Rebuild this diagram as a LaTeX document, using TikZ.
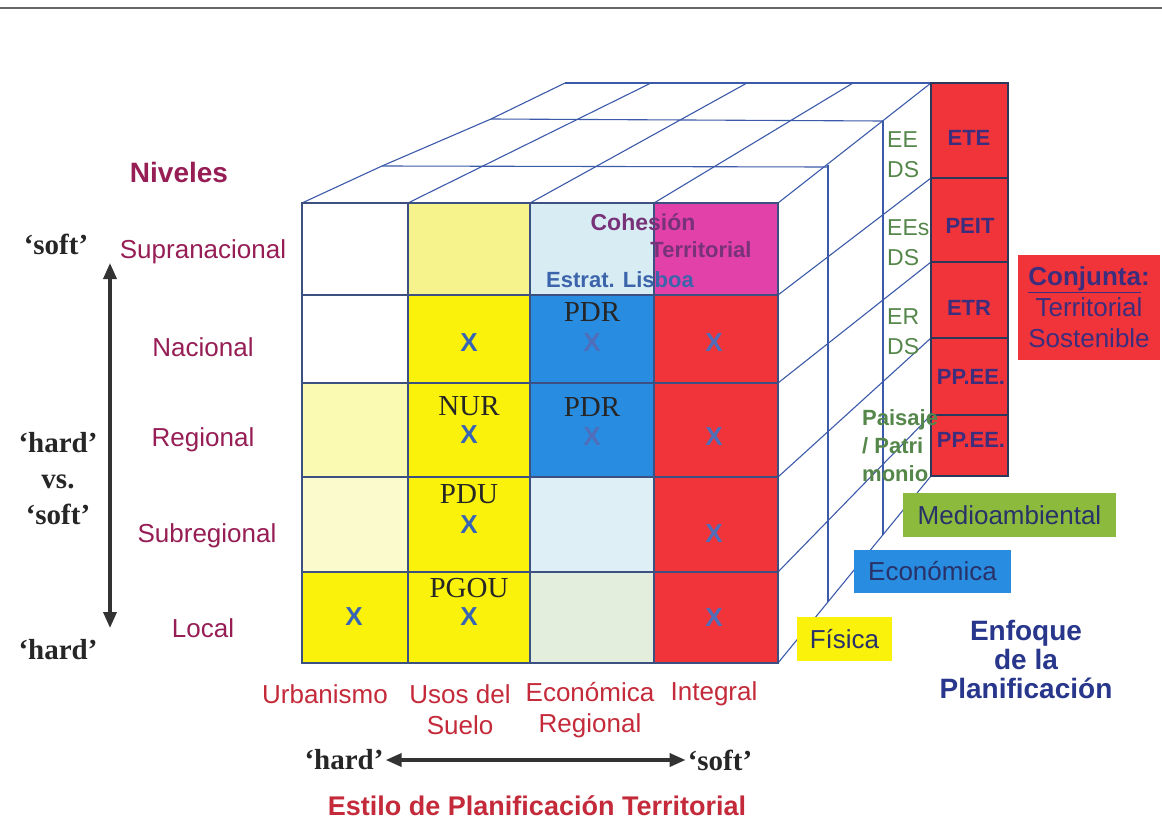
\documentclass[tikz,border=0pt]{standalone}
\usepackage{fontspec}
\setmainfont{Liberation Sans}
\newfontfamily\timesfont{Liberation Serif}
\usetikzlibrary{arrows.meta, positioning}

\definecolor{cubeblue}{RGB}{60,90,170}
\definecolor{gridblue}{RGB}{60,80,130}
\definecolor{cyellow}{RGB}{250,242,10}
\definecolor{paleyellow}{RGB}{246,242,140}
\definecolor{lightyellow}{RGB}{250,250,178}
\definecolor{creamyellow}{RGB}{251,250,205}
\definecolor{iceblue}{RGB}{216,236,244}
\definecolor{paleblue}{RGB}{222,240,246}
\definecolor{palegreen}{RGB}{228,238,220}
\definecolor{cblue}{RGB}{40,140,225}
\definecolor{cred}{RGB}{240,52,58}
\definecolor{cmagenta}{RGB}{226,65,170}
\definecolor{oliveg}{RGB}{140,186,60}
\definecolor{maroon}{RGB}{150,30,85}
\definecolor{crimson}{RGB}{196,42,58}
\definecolor{xblue}{RGB}{55,100,180}
\definecolor{fadeblue}{RGB}{80,110,185}
\definecolor{leafgreen}{RGB}{85,135,75}
\definecolor{inkblue}{RGB}{60,45,125}
\definecolor{darknavy}{RGB}{40,50,105}
\definecolor{navy}{RGB}{40,55,140}
\definecolor{plum}{RGB}{120,50,120}
\definecolor{lisboa}{RGB}{60,100,170}

\begin{document}
\begin{tikzpicture}[
    x=1pt, y=-1pt,
    edge/.style={draw=cubeblue, line width=1.1pt},
    grid/.style={draw=gridblue, line width=1.2pt},
    level/.style={font=\fontsize{26}{31}\selectfont, text=maroon, align=center},
    estilo/.style={font=\fontsize{26}{31}\selectfont, text=crimson, align=center},
    hardsoft/.style={font=\timesfont\bfseries\fontsize{29}{36}\selectfont, align=center, text=black!85, inner sep=2pt},
    plan/.style={font=\timesfont\fontsize{29}{30}\selectfont, text=black!85},
    xmark/.style={font=\bfseries\fontsize{26}{26}\selectfont, text=xblue},
    fadedx/.style={font=\bfseries\fontsize{26}{26}\selectfont, text=fadeblue},
    panel/.style={font=\bfseries\fontsize{22}{24}\selectfont, text=inkblue},
    dsnote/.style={font=\fontsize{23}{30}\selectfont, text=leafgreen, align=left, anchor=west, inner sep=0pt},
    enfoque/.style={rectangle, inner sep=0pt, font=\fontsize{26}{28}\selectfont, text=darknavy},
    heading/.style={font=\bfseries\fontsize{28}{29}\selectfont, align=center},
    arrow/.style={{Triangle[length=16pt,width=13pt]}-{Triangle[length=16pt,width=13pt]}, line width=3.5pt, draw=black!80}
]
\useasboundingbox (0,0) rectangle (1162,830);
\fill[white] (0,0) rectangle (1162,830);
\draw[black!60, line width=2pt] (0,8) -- (1162,8);

% Top face of the cube
\draw[edge] (302,203) -- (382,166) -- (491,119) -- (565,83);
\draw[edge] (382,166) -- (828,167);
\draw[edge] (491,119) -- (883,121);
\draw[edge] (565,83) -- (931,83);
\draw[edge] (408,203) -- (651,83);
\draw[edge] (530,203) -- (747,83);
\draw[edge] (654,203) -- (853,83);
\draw[edge] (778,203) -- (931,83);

% Right face of the cube
\draw[edge] (828,165) -- (828,602);
\draw[edge] (883,121) -- (883,535);
\draw[edge] (778,295) -- (931,178);
\draw[edge] (778,383) -- (931,262);
\draw[edge] (778,477) -- (931,338);
\draw[edge] (778,572) -- (931,415);
\draw[edge] (778,663) -- (931,476);

% Front face: cells
\fill[paleyellow] (408,203) rectangle (530,295);
\fill[iceblue] (530,203) rectangle (654,295);
\fill[cmagenta] (654,203) rectangle (778,295);
\fill[cyellow] (408,295) rectangle (530,383);
\fill[cblue] (530,295) rectangle (654,383);
\fill[cred] (654,295) rectangle (778,383);
\fill[lightyellow] (302,383) rectangle (408,477);
\fill[cyellow] (408,383) rectangle (530,477);
\fill[cblue] (530,383) rectangle (654,477);
\fill[cred] (654,383) rectangle (778,477);
\fill[creamyellow] (302,477) rectangle (408,572);
\fill[cyellow] (408,477) rectangle (530,572);
\fill[paleblue] (530,477) rectangle (654,572);
\fill[cred] (654,477) rectangle (778,572);
\fill[cyellow] (302,572) rectangle (530,663);
\fill[palegreen] (530,572) rectangle (654,663);
\fill[cred] (654,572) rectangle (778,663);

% Front face: grid
\draw[grid] (302,203) rectangle (778,663);
\draw[grid] (408,203) -- (408,663);
\draw[grid] (530,203) -- (530,663);
\draw[grid] (654,203) -- (654,663);
\draw[grid] (302,295) -- (778,295);
\draw[grid] (302,383) -- (778,383);
\draw[grid] (302,477) -- (778,477);
\draw[grid] (302,572) -- (778,572);

% Cell contents
\node[font=\bfseries\fontsize{23}{25}\selectfont, text=plum] (cohesion) at (643,222) {Cohesión};
\node[font=\bfseries\fontsize{22}{24}\selectfont, text=plum] (territorial) at (701,250) {Territorial};
\node[font=\bfseries\fontsize{22}{24}\selectfont, text=lisboa] (lisboa) at (620,280) {Estrat. Lisboa};

\node[xmark] (xusos2) at (469,343) {X};
\node[plan] (pdr2) at (592,312) {PDR};
\node[fadedx] (xeco2) at (592,343) {X};
\node[fadedx] (xint2) at (714,343) {X};

\node[plan] (nur) at (469,406) {NUR};
\node[xmark] (xusos3) at (469,435) {X};
\node[plan] (pdr3) at (592,407) {PDR};
\node[fadedx] (xeco3) at (592,437) {X};
\node[fadedx] (xint3) at (714,437) {X};

\node[plan] (pdu) at (469,494) {PDU};
\node[xmark] (xusos4) at (469,525) {X};
\node[fadedx] (xint4) at (714,534) {X};

\node[xmark] (xurb5) at (354,617) {X};
\node[plan] (pgou) at (469,588) {PGOU};
\node[xmark] (xusos5) at (469,617) {X};
\node[fadedx] (xint5) at (714,618) {X};

% Conjunta panel
\fill[cred] (931,83) rectangle (1008,476);
\draw[draw=gridblue!70!black, line width=1.2pt] (931,83) rectangle (1008,476);
\draw[draw=gridblue!70!black, line width=1.2pt] (931,178) -- (1008,178);
\draw[draw=gridblue!70!black, line width=1.2pt] (931,262) -- (1008,262);
\draw[draw=gridblue!70!black, line width=1.2pt] (931,338) -- (1008,338);
\draw[draw=gridblue!70!black, line width=1.2pt] (931,415) -- (1008,415);
\node[panel] (ete) at (969,138) {ETE};
\node[panel] (peit) at (970,226) {PEIT};
\node[panel] (etr) at (969,308) {ETR};
\node[panel] (ppee1) at (971,377) {PP.EE.};
\node[panel] (ppee2) at (971,440) {PP.EE.};

% Right face notes
\node[dsnote] (eeds) at (887,155) {EE\\DS};
\node[dsnote] (eesds) at (887,243) {EEs\\DS};
\node[dsnote] (erds) at (887,332) {ER\\DS};
\node[dsnote, font=\bfseries\fontsize{22}{28}\selectfont] (paisaje) at (862,446) {Paisaje\\/ Patri\\monio};

% Enfoque boxes
\node[enfoque, fill=cyellow, minimum width=95pt, minimum height=44pt] (fisica) at (844.5,639) {Física};
\node[enfoque, fill=cblue, minimum width=157pt, minimum height=43pt] (economica) at (932.5,571.5) {Económica};
\node[enfoque, fill=oliveg, minimum width=213pt, minimum height=44pt] (medio) at (1009.5,515) {Medioambiental};
\node[enfoque, fill=cred, minimum width=142pt, minimum height=105pt, align=center, text=inkblue, font=\fontsize{26}{31}\selectfont] (conjunta) at (1089,307) {{\bfseries\underline{Conjunta}:}\\Territorial\\Sostenible};
\node[heading, text=navy] (enfoquetitle) at (1026,659) {Enfoque\\de la\\Planificación};

% Niveles
\node[heading, text=maroon] (niveles) at (179,172) {Niveles};
\node[level] (supra) at (203,252) {Supranacional};
\node[level] (nacional) at (203,347) {Nacional};
\node[level] (regional) at (203,440) {Regional};
\node[level] (subregional) at (207,536) {Subregional};
\node[level] (local) at (203,628) {Local};

\node[hardsoft] (softtop) at (56,244) {‘soft’};
\node[hardsoft] (hardvs) at (58,479) {‘hard’\\vs.\\‘soft’};
\node[hardsoft] (hardbot) at (58,650) {‘hard’};
\coordinate (levtop) at (110,263);
\coordinate (levbot) at (110,628);
\draw[arrow] (levbot) -- (levtop);

% Estilo
\node[estilo] (urbanismo) at (325,694) {Urbanismo};
\node[estilo] (usos) at (460,710) {Usos del\\Suelo};
\node[estilo] (ecoreg) at (590,710) {Económica\\Regional};
\node[estilo] (integral) at (714,694) {Integral};

\node[hardsoft] (hardx) at (344,760) {‘hard’};
\node[hardsoft] (softx) at (720,760) {‘soft’};
\draw[arrow] (hardx.east) -- (softx.west);

\node[heading, text=crimson, font=\bfseries\fontsize{27}{29}\selectfont] (estilotitle) at (537,806) {Estilo de Planificación Territorial};
\end{tikzpicture}
\end{document}
